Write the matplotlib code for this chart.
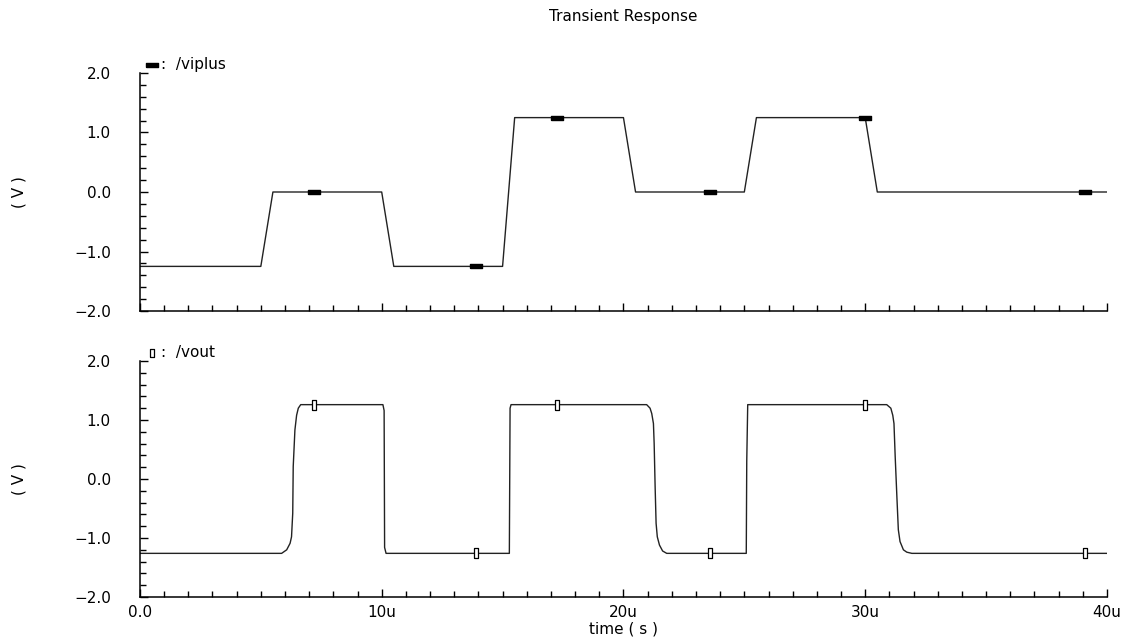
import matplotlib
matplotlib.use("Agg")
import matplotlib.pyplot as plt
from matplotlib.ticker import MultipleLocator, FixedLocator, FixedFormatter

# time in microseconds
viplus_t = [0, 5.0, 5.5, 10.0, 10.5, 15.0, 15.5, 20.0, 20.5, 25.0, 25.5, 30.0, 30.5, 40.0]
viplus_v = [-1.25, -1.25, 0, 0, -1.25, -1.25, 1.25, 1.25, 0, 0, 1.25, 1.25, 0, 0]

vout_t = [0, 5.86, 6.07, 6.21, 6.27, 6.32, 6.34, 6.41, 6.48, 6.55, 6.65,
          10.05, 10.1, 10.12, 10.18,
          15.28, 15.31, 15.35,
          20.96, 21.10, 21.17, 21.24, 21.27, 21.31, 21.35, 21.40, 21.49, 21.62, 21.79,
          25.08, 25.10, 25.14,
          30.89, 31.06, 31.14, 31.19, 31.24, 31.31, 31.37, 31.44, 31.58, 31.72, 31.93,
          40.0]
vout_v = [-1.26, -1.26, -1.20, -1.09, -0.98, -0.58, 0.21, 0.83, 1.08, 1.20, 1.26,
          1.26, 1.16, -1.16, -1.26,
          -1.26, 1.20, 1.26,
          1.26, 1.20, 1.11, 0.94, 0.60, -0.13, -0.75, -0.98, -1.12, -1.22, -1.26,
          -1.26, 0.30, 1.26,
          1.26, 1.20, 1.08, 0.94, 0.38, -0.30, -0.86, -1.06, -1.20, -1.24, -1.26,
          -1.26]

viplus_mark_t = [7.2, 13.9, 17.25, 23.6, 30.0, 39.1]
viplus_mark_v = [0, -1.25, 1.25, 0, 1.25, 0]
vout_mark_t = [7.2, 13.9, 17.25, 23.6, 30.0, 39.1]
vout_mark_v = [1.26, -1.26, 1.26, -1.26, 1.26, -1.26]

x_ticks = [0, 10, 20, 30, 40]
x_labels = ["0.0", "10u", "20u", "30u", "40u"]
y_ticks = [-2, -1, 0, 1, 2]
y_labels = ["\u22122.0", "\u22121.0", "0.0", "1.0", "2.0"]

font = "DejaVu Sans"
fs = 11
line_color = "#222222"

dash_marker = [(-1, -0.32), (1, -0.32), (1, 0.32), (-1, 0.32), (-1, -0.32)]
box_marker = [(-0.45, -1), (0.45, -1), (0.45, 1), (-0.45, 1), (-0.45, -1)]

fig = plt.figure(figsize=(11.35, 6.43), dpi=100)
ax1 = fig.add_axes([0.1233, 0.5163, 0.852, 0.3702])
ax2 = fig.add_axes([0.1233, 0.0715, 0.852, 0.3671])

ax1.plot(viplus_t, viplus_v, color=line_color, lw=1.0)
ax1.plot(viplus_mark_t, viplus_mark_v, ls="none", marker=dash_marker,
         ms=9, color="black")
ax2.plot(vout_t, vout_v, color=line_color, lw=1.0)
ax2.plot(vout_mark_t, vout_mark_v, ls="none", marker=box_marker, ms=7,
         mfc="white", mec="black", mew=0.9)

for ax in (ax1, ax2):
    ax.set_xlim(0, 40)
    ax.set_ylim(-2, 2)
    ax.spines["top"].set_visible(False)
    ax.spines["right"].set_visible(False)
    ax.spines["left"].set_linewidth(1.1)
    ax.spines["bottom"].set_linewidth(1.1)
    ax.xaxis.set_major_locator(FixedLocator(x_ticks))
    ax.xaxis.set_minor_locator(MultipleLocator(1))
    ax.yaxis.set_major_locator(FixedLocator(y_ticks))
    ax.yaxis.set_major_formatter(FixedFormatter(y_labels))
    ax.yaxis.set_minor_locator(MultipleLocator(0.2))
    ax.tick_params(which="both", direction="in", color="black", width=1.0)
    ax.tick_params(which="major", length=6)
    ax.tick_params(which="minor", length=4.3)
    ax.tick_params(axis="y", which="major", pad=21, labelsize=fs)
    ax.tick_params(axis="x", which="major", pad=6, labelsize=fs)
    for lab in ax.get_yticklabels() + ax.get_xticklabels():
        lab.set_fontfamily(font)
    ax.set_ylabel("( V )", fontsize=fs, fontfamily=font, labelpad=34)

ax1.xaxis.set_major_formatter(FixedFormatter([""] * len(x_ticks)))
ax2.xaxis.set_major_formatter(FixedFormatter(x_labels))
ax2.set_xlabel("time ( s )", fontsize=fs, fontfamily=font, labelpad=1)

fig.text(0.5493, 0.975, "Transient Response", ha="center", va="center",
         fontsize=fs, fontfamily=font)

# trace labels above each plot
ax1.plot([0.012], [1.035], transform=ax1.transAxes, marker=dash_marker, ms=8,
         color="black", clip_on=False)
ax1.text(0.022, 1.035, ":  /viplus", transform=ax1.transAxes, fontsize=fs,
         fontfamily=font, va="center", ha="left")
ax2.plot([0.012], [1.035], transform=ax2.transAxes, marker=box_marker, ms=6,
         mfc="white", mec="black", mew=0.9, clip_on=False)
ax2.text(0.022, 1.035, ":  /vout", transform=ax2.transAxes, fontsize=fs,
         fontfamily=font, va="center", ha="left")

fig.savefig("out.png", dpi=100)
